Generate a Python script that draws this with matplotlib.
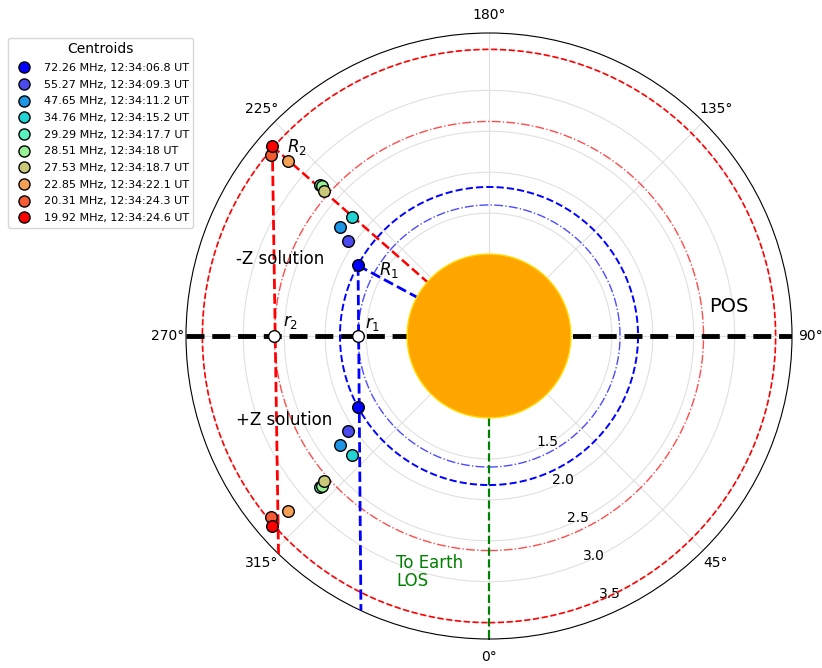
import numpy as np
import matplotlib
matplotlib.use("Agg")
import matplotlib.pyplot as plt
from matplotlib.lines import Line2D

# Centroid frequencies, times and colours
freqs = ["72.26", "55.27", "47.65", "34.76", "29.29", "28.51", "27.53", "22.85", "20.31", "19.92"]
times = ["12:34:06.8", "12:34:09.3", "12:34:11.2", "12:34:15.2", "12:34:17.7",
         "12:34:18", "12:34:18.7", "12:34:22.1", "12:34:24.3", "12:34:24.6"]
colors = ["#0000ff", "#4a4aee", "#1e96e6", "#23d2d2", "#5af2c0",
          "#96f096", "#c8c878", "#f5a055", "#f55a32", "#ff0000"]

# Radial distance (R_sun) and position angle (deg) of the -Z solution
r_cent = [1.816, 2.079, 2.253, 2.211, 2.763, 2.737, 2.684, 3.257, 3.461, 3.516]
theta_negz = [241.7, 235.9, 233.6, 228.95, 228.2, 228.1, 228.6, 228.9, 230.4, 228.8]
# +Z solution is the mirror image across the plane of sky
theta_posz = [(180.0 - t) % 360.0 for t in theta_negz]

# Characteristic radii
R1, r1 = 1.82, 1.60
R2, r2 = 3.50, 2.62
r_max = 3.7

# LOS-parallel lines: (theta_start, r_start) -> (theta_end, r_end)
los_blue = ([241.7, 335.0], [1.816, 3.7])
los_red = ([228.8, 316.0], [3.516, 3.7])

rticks = [1.5, 2.0, 2.5, 3.0, 3.5]

fig = plt.figure(figsize=(8.22, 6.68), dpi=100)
ax = fig.add_axes([186 / 822, 29 / 668, 606 / 822, 606 / 668], projection="polar")
ax.set_theta_zero_location("S")
ax.set_theta_direction(1)
ax.set_rlim(0, r_max)
ax.set_rticks(rticks)
ax.set_rlabel_position(22.5)
ax.tick_params(axis="both", labelsize=10)
ax.tick_params(axis="x", pad=2.5)
ax.grid(color="#e0e0e0", lw=0.8)

d = np.deg2rad
full = np.linspace(0, 2 * np.pi, 721)

# Reference circles
ax.plot(full, np.full_like(full, R2), color="red", ls="--", lw=1.2, zorder=2)
ax.plot(full, np.full_like(full, r2), color="red", ls="-.", lw=1.0, alpha=0.7, zorder=2)
ax.plot(full, np.full_like(full, R1), color="blue", ls="--", lw=1.4, zorder=2)
ax.plot(full, np.full_like(full, r1), color="blue", ls="-.", lw=1.0, alpha=0.7, zorder=2)

# Plane of sky
ax.plot([d(270), d(90)], [r_max, r_max], color="black", ls="--", lw=3.5, zorder=3)
# Earth line of sight
ax.plot([0, 0], [1.0, r_max], color="green", ls="--", lw=1.6, zorder=3)

# Radial lines to the outermost/innermost -Z centroids
ax.plot([d(theta_negz[-1]), 0], [r_cent[-1], 0], color="red", ls="--", lw=1.8, zorder=3)
ax.plot([d(theta_negz[0]), 0], [r_cent[0], 0], color="blue", ls="--", lw=2.0, zorder=3)

# Lines parallel to the LOS
ax.plot(d(np.array(los_red[0])), los_red[1], color="red", ls="--", lw=2.0, zorder=3)
ax.plot(d(np.array(los_blue[0])), los_blue[1], color="blue", ls="--", lw=2.0, zorder=3)

# Sun
ax.fill(full, np.ones_like(full), facecolor="orange", edgecolor="#ffdd00", lw=1.0, zorder=4)

# Projected plane-of-sky distances
ax.scatter([d(270), d(270)], [r1, r2], s=70, facecolor="white", edgecolor="black",
           lw=1.0, zorder=6)

# Centroids
handles = []
labels = []
for f, t, c, r, tn, tp in zip(freqs, times, colors, r_cent, theta_negz, theta_posz):
    ax.scatter([d(tn), d(tp)], [r, r], s=70, color=c, edgecolor="black", lw=1.0, zorder=6)
    handles.append(Line2D([], [], ls="none", marker="o", markersize=8,
                          markerfacecolor=c, markeredgecolor="black"))
    labels.append(f"{f} MHz, {t} UT")

ax.set_rlim(0, r_max)


def at(px, py):
    return (px - 186) / 606, (639 - py) / 606


tk = dict(transform=ax.transAxes, zorder=7)
ax.text(*at(236, 259), "-Z solution", fontsize=12, ha="left", va="center", **tk)
ax.text(*at(236, 420), "+Z solution", fontsize=12, ha="left", va="center", **tk)
ax.text(*at(297, 147), "$R_2$", fontsize=12, ha="center", va="center", **tk)
ax.text(*at(389, 270), "$R_1$", fontsize=12, ha="center", va="center", **tk)
ax.text(*at(291, 322), "$r_2$", fontsize=12, ha="center", va="center", **tk)
ax.text(*at(373, 324), "$r_1$", fontsize=12, ha="center", va="center", **tk)
ax.text(*at(729, 307), "POS", fontsize=14, ha="center", va="center", **tk)
ax.text(*at(396, 572), "To Earth\nLOS", fontsize=12, color="green", ha="left",
        va="center", linespacing=1.0, **tk)

fig.legend(handles, labels, loc="upper left", bbox_to_anchor=(8 / 822, 1 - 38 / 668),
           title="Centroids", fontsize=8, title_fontsize=10, handletextpad=0.8,
           borderaxespad=0.0, labelspacing=0.6)

fig.savefig("out.png", dpi=100)
